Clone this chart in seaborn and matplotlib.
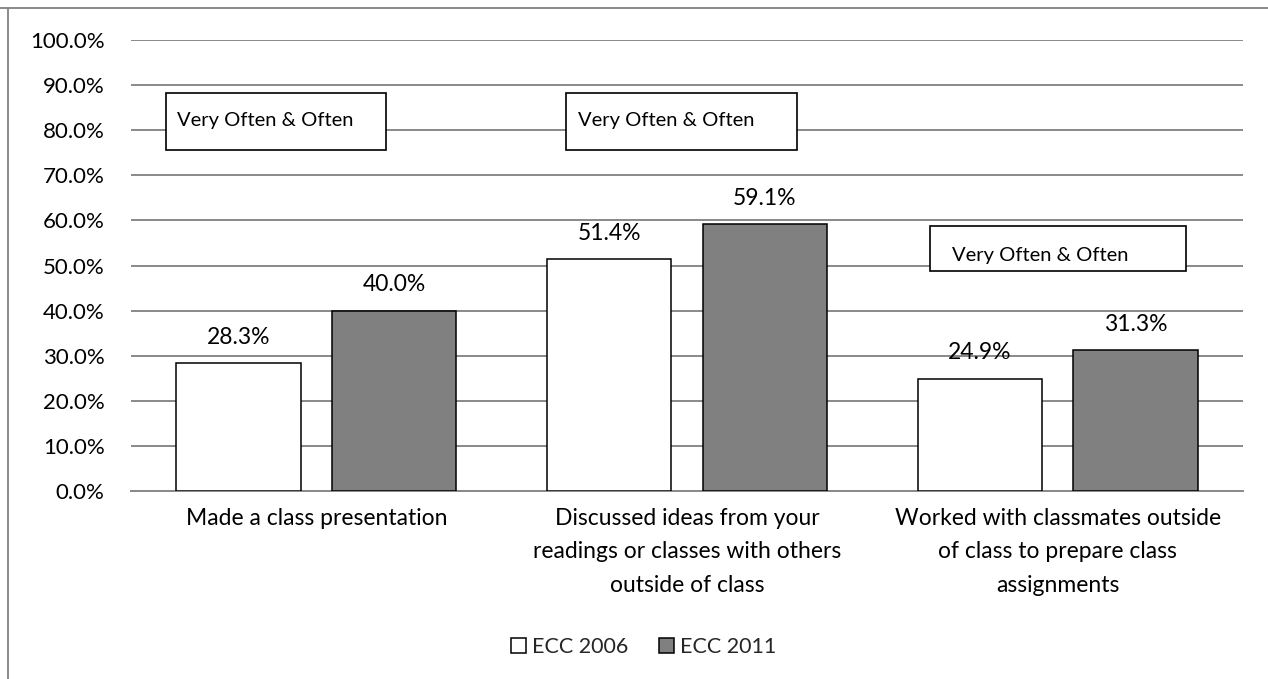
import pandas as pd
import matplotlib
matplotlib.use("Agg")
import matplotlib.pyplot as plt
import seaborn as sns
from matplotlib.ticker import PercentFormatter, MultipleLocator
from matplotlib.patches import Rectangle
from matplotlib.lines import Line2D

# Data
items = [
    "Made a class presentation",
    "Discussed ideas from your\nreadings or classes with others\noutside of class",
    "Worked with classmates outside\nof class to prepare class\nassignments",
]
ecc_2006 = [28.3, 51.4, 24.9]
ecc_2011 = [40.0, 59.1, 31.3]
series = ["ECC 2006", "ECC 2011"]
box_label = "Very Often & Often"

df = pd.DataFrame({
    "item": items * 2,
    "year": [series[0]] * 3 + [series[1]] * 3,
    "pct": ecc_2006 + ecc_2011,
})

sns.set_theme(style="white")
plt.rcParams["font.family"] = ["Lato", "DejaVu Sans"]

grid_col = "#898989"
fig = plt.figure(figsize=(12.68, 6.79), dpi=100)
ax = fig.add_axes([131 / 1268, 1 - 491 / 679, 1112 / 1268, 451 / 679])

sns.barplot(data=df, x="item", y="pct", hue="year", ax=ax,
            palette={"ECC 2006": "white", "ECC 2011": "#808080"},
            edgecolor="black", linewidth=1.1, width=0.84, gap=0.2,
            legend=False, zorder=3)

ax.set_xlim(-0.5, 2.5)
ax.set_ylim(0, 100)
ax.yaxis.set_major_locator(MultipleLocator(10))
ax.yaxis.set_major_formatter(PercentFormatter(xmax=100, decimals=1))
ax.grid(axis="y", color=grid_col, linewidth=1.4, zorder=0)
ax.set_axisbelow(True)
for side in ["top", "right", "left"]:
    ax.spines[side].set_visible(False)
ax.spines["bottom"].set_color(grid_col)
ax.spines["bottom"].set_linewidth(1.4)
ax.set_xlabel("")
ax.set_ylabel("")
ax.set_xticks(range(len(items)), labels=items, linespacing=1.74)
ax.tick_params(axis="y", length=0, pad=19, labelsize=16, labelcolor="black")
ax.tick_params(axis="x", length=0, pad=12, labelsize=16.5, labelcolor="black")

# value labels
for cont in ax.containers:
    ax.bar_label(cont, fmt="%.1f%%", padding=11, fontsize=16.5, color="black")

# "Very Often & Often" boxes (axes fractions)
boxes = [(0.0315, 0.756, 0.1978, 0.1265, 0.0414, 0.822),
         (0.3912, 0.756, 0.2078, 0.1265, 0.402, 0.822),
         (0.7185, 0.4878, 0.2302, 0.0998, 0.738, 0.522)]
for bx, by, bw, bh, tx, ty in boxes:
    ax.add_patch(Rectangle((bx, by), bw, bh, transform=ax.transAxes,
                           facecolor="white", edgecolor="black",
                           linewidth=1.2, zorder=5))
    ax.text(tx, ty, box_label, transform=ax.transAxes, ha="left",
            va="center", fontsize=14.5, color="black", zorder=6)

# legend
handles = [Rectangle((0, 0), 1, 1, facecolor="white", edgecolor="black", linewidth=1.1),
           Rectangle((0, 0), 1, 1, facecolor="#808080", edgecolor="black", linewidth=1.1)]
fig.legend(handles, series, loc="center", bbox_to_anchor=(0.5075, 0.047),
           ncol=2, frameon=False, fontsize=15.5, handlelength=0.7,
           handleheight=0.7, handletextpad=0.3, columnspacing=1.4)

# outer chart border (top and left visible)
fig.add_artist(Line2D([0, 1], [1 - 8 / 679, 1 - 8 / 679], transform=fig.transFigure,
                      color=grid_col, linewidth=1.4))
fig.add_artist(Line2D([8 / 1268, 8 / 1268], [0, 1 - 8 / 679], transform=fig.transFigure,
                      color=grid_col, linewidth=1.4))

fig.savefig("out.png", dpi=100, facecolor="white")
